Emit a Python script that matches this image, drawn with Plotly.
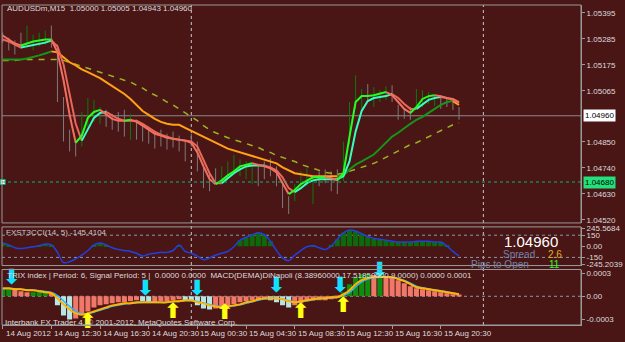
import pandas as pd
import plotly.graph_objects as go

# ---------------- data ----------------
times = pd.date_range("2012-08-14 08:30", periods=76, freq="30min")

fast1 = [1.05299, 1.05282, 1.05265, 1.05257, 1.05265, 1.05274, 1.05278, 1.05282, 1.05282, 1.05228,
         1.05110, 1.04964, 1.04846, 1.04876, 1.04951, 1.04976, 1.04985, 1.04964, 1.04947, 1.04939,
         1.04939, 1.04943, 1.04934, 1.04918, 1.04901, 1.04884, 1.04876, 1.04867, 1.04863, 1.04859,
         1.04855, 1.04846, 1.04805, 1.04746, 1.04692, 1.04671, 1.04687, 1.04708, 1.04725, 1.04746,
         1.04754, 1.04759, 1.04754, 1.04746, 1.04738, 1.04721, 1.04675, 1.04629, 1.04646, 1.04671,
         1.04687, 1.04700, 1.04700, 1.04700, 1.04696, 1.04687, 1.04717, 1.04872, 1.05018, 1.05043,
         1.05043, 1.05047, 1.05052, 1.05060, 1.05047, 1.05018, 1.04989, 1.04972, 1.04997, 1.05031,
         1.05043, 1.05047, 1.05043, 1.05035, 1.05031, 1.05018]

fast2 = [1.05282, 1.05274, 1.05261, 1.05248, 1.05253, 1.05261, 1.05265, 1.05269, 1.05278, 1.05253,
         1.05177, 1.05052, 1.04926, 1.04855, 1.04901, 1.04951, 1.04972, 1.04976, 1.04960, 1.04947,
         1.04939, 1.04939, 1.04939, 1.04926, 1.04909, 1.04893, 1.04880, 1.04872, 1.04863, 1.04859,
         1.04855, 1.04851, 1.04830, 1.04775, 1.04717, 1.04675, 1.04675, 1.04696, 1.04717, 1.04733,
         1.04746, 1.04750, 1.04750, 1.04750, 1.04742, 1.04729, 1.04700, 1.04654, 1.04637, 1.04654,
         1.04675, 1.04687, 1.04692, 1.04692, 1.04692, 1.04692, 1.04704, 1.04767, 1.04893, 1.04980,
         1.05022, 1.05035, 1.05039, 1.05043, 1.05052, 1.05035, 1.05010, 1.04989, 1.04989, 1.05010,
         1.05027, 1.05035, 1.05039, 1.05035, 1.05027, 1.05014]

slow_ma = [1.05198, 1.05198, 1.05198, 1.05198, 1.05202, 1.05207, 1.05215, 1.05223, 1.05232, 1.05228,
           1.05207, 1.05186, 1.05173, 1.05156, 1.05144, 1.05131, 1.05119, 1.05102, 1.05085, 1.05068,
           1.05052, 1.05031, 1.05006, 1.04980, 1.04964, 1.04947, 1.04934, 1.04926, 1.04922, 1.04922,
           1.04909, 1.04897, 1.04884, 1.04872, 1.04859, 1.04846, 1.04834, 1.04821, 1.04813, 1.04805,
           1.04796, 1.04788, 1.04780, 1.04775, 1.04767, 1.04759, 1.04742, 1.04729, 1.04717, 1.04713,
           1.04708, 1.04704, 1.04704, 1.04704, 1.04704, 1.04704, 1.04708, 1.04733, 1.04754, 1.04767,
           1.04780, 1.04796, 1.04821, 1.04846, 1.04872, 1.04888, 1.04909, 1.04926, 1.04943, 1.04955,
           1.04972, 1.04989, 1.05006, 1.05018, 1.05022, 1.05006]

trend_ma = [1.05194, 1.05194, 1.05194, 1.05198, 1.05198, 1.05198, 1.05198, 1.05198, 1.05198, 1.05198,
            1.05194, 1.05186, 1.05177, 1.05169, 1.05161, 1.05152, 1.05144, 1.05135, 1.05127, 1.05119,
            1.05110, 1.05102, 1.05089, 1.05077, 1.05060, 1.05047, 1.05035, 1.05018, 1.05006, 1.04989,
            1.04972, 1.04955, 1.04939, 1.04918, 1.04901, 1.04888, 1.04876, 1.04867, 1.04859, 1.04851,
            1.04842, 1.04834, 1.04826, 1.04813, 1.04805, 1.04792, 1.04784, 1.04775, 1.04767, 1.04754,
            1.04746, 1.04738, 1.04729, 1.04721, 1.04717, 1.04713, 1.04717, 1.04725, 1.04733, 1.04742,
            1.04750, 1.04759, 1.04771, 1.04784, 1.04800, 1.04813, 1.04826, 1.04838, 1.04846, 1.04859,
            1.04872, 1.04884, 1.04897, 1.04909, 1.04922, 1.04930]

bar_high = [1.05311, 1.05290, 1.05278, 1.05311, 1.05341, 1.05303, 1.05311, 1.05320, 1.05341, 1.05261,
            1.05039, 1.04901, 1.04859, 1.04976, 1.05035, 1.05027, 1.04997, 1.04985, 1.04968, 1.04976,
            1.04985, 1.04968, 1.04943, 1.04926, 1.04913, 1.04893, 1.04901, 1.04884, 1.04893, 1.04876,
            1.04859, 1.04884, 1.04851, 1.04754, 1.04717, 1.04738, 1.04746, 1.04767, 1.04796, 1.04775,
            1.04767, 1.04754, 1.04746, 1.04767, 1.04780, 1.04746, 1.04683, 1.04620, 1.04671, 1.04725,
            1.04738, 1.04704, 1.04725, 1.04733, 1.04725, 1.04733, 1.04851, 1.05018, 1.05131, 1.05073,
            1.05094, 1.05081, 1.05068, 1.05085, 1.05089, 1.05006, 1.04989, 1.04997, 1.05073, 1.05068,
            1.05060, 1.05052, 1.05047, 1.05039, 1.05035, 1.04997]

bar_low = [1.05269, 1.05236, 1.05219, 1.05244, 1.05269, 1.05236, 1.05253, 1.05261, 1.05248, 1.05018,
           1.04851, 1.04809, 1.04788, 1.04830, 1.04913, 1.04934, 1.04926, 1.04913, 1.04901, 1.04893,
           1.04872, 1.04859, 1.04859, 1.04851, 1.04842, 1.04821, 1.04830, 1.04817, 1.04826, 1.04809,
           1.04767, 1.04830, 1.04725, 1.04654, 1.04641, 1.04675, 1.04683, 1.04692, 1.04717, 1.04704,
           1.04692, 1.04671, 1.04662, 1.04692, 1.04704, 1.04662, 1.04570, 1.04545, 1.04599, 1.04650,
           1.04662, 1.04587, 1.04662, 1.04675, 1.04641, 1.04629, 1.04683, 1.04838, 1.04989, 1.04989,
           1.05018, 1.04997, 1.05018, 1.05027, 1.05018, 1.04943, 1.04947, 1.04943, 1.04989, 1.04997,
           1.05010, 1.05001, 1.04989, 1.04997, 1.04985, 1.04943]

cci = [44, 19, -19, -31, -19, -6, 6, 31, 19, -82,
       -220, -208, -170, -120, -57, 19, 44, 19, -19, -44,
       -57, -69, -94, -132, -107, -94, -82, -82, -57, 19,
       -69, -94, -132, -182, -157, -120, -94, -69, -6, 82,
       120, 157, 182, 157, 69, -57, -157, -195, -120, -57,
       -6, 6, -19, -44, 6, 94, 182, 220, 208, 170,
       132, 107, 94, 82, 69, 57, 57, 57, 69, 69,
       69, 57, 57, 6, -69, -132]

macd_hist = [0.000091, 0.000104, 0.000091, 0.000065, 0.000052, 0.000052, 0.000065, 0.000065, 0.000039, -0.000117,
             -0.000247, -0.000299, -0.000286, -0.000247, -0.000195, -0.000143, -0.000117, -0.000104, -0.000091, -0.000078,
             -0.000078, -0.000065, -0.000052, -0.000065, -0.000078, -0.000078, -0.000065, -0.000065, -0.000052, -0.000039,
             -0.000052, -0.000065, -0.000117, -0.000156, -0.000169, -0.000156, -0.000143, -0.000130, -0.000104, -0.000078,
             -0.000065, -0.000052, -0.000039, -0.000039, -0.000052, -0.000078, -0.000117, -0.000143, -0.000117, -0.000091,
             -0.000065, -0.000052, -0.000052, -0.000052, -0.000039, -0.000013, 0.000052, 0.000156, 0.000247, 0.000286,
             0.000286, 0.000273, 0.000273, 0.000260, 0.000247, 0.000208, 0.000169, 0.000130, 0.000104, 0.000091,
             0.000078, 0.000065, 0.000052, 0.000039, 0.000026, 0.000013]

signal_a = [0.000104, 0.000104, 0.000091, 0.000091, 0.000078, 0.000078, 0.000065, 0.000052, 0.000039, -0.000026,
            -0.000104, -0.000169, -0.000221, -0.000234, -0.000221, -0.000195, -0.000169, -0.000143, -0.000117, -0.000104,
            -0.000091, -0.000091, -0.000078, -0.000078, -0.000078, -0.000078, -0.000078, -0.000078, -0.000065, -0.000065,
            -0.000052, -0.000052, -0.000078, -0.000091, -0.000117, -0.000130, -0.000143, -0.000130, -0.000117, -0.000104,
            -0.000078, -0.000065, -0.000039, -0.000026, -0.000026, -0.000026, -0.000039, -0.000065, -0.000078, -0.000065,
            -0.000052, -0.000039, -0.000026, -0.000026, -0.000013, -0.000013, 0.000026, 0.000078, 0.000156, 0.000208,
            0.000234, 0.000247, 0.000247, 0.000247, 0.000247, 0.000221, 0.000195, 0.000156, 0.000117, 0.000104,
            0.000091, 0.000078, 0.000065, 0.000052, 0.000039, 0.000026]

signal_b = [0.000095, 0.000100, 0.000098, 0.000092, 0.000085, 0.000080, 0.000072, 0.000062, 0.000050, 0.000010,
            -0.000060, -0.000130, -0.000190, -0.000222, -0.000225, -0.000205, -0.000180, -0.000155, -0.000130, -0.000112,
            -0.000098, -0.000092, -0.000085, -0.000080, -0.000080, -0.000080, -0.000080, -0.000078, -0.000070, -0.000066,
            -0.000058, -0.000054, -0.000068, -0.000085, -0.000105, -0.000122, -0.000136, -0.000135, -0.000124, -0.000110,
            -0.000090, -0.000072, -0.000050, -0.000035, -0.000028, -0.000028, -0.000035, -0.000055, -0.000072, -0.000070,
            -0.000058, -0.000045, -0.000032, -0.000028, -0.000018, -0.000014, 0.000010, 0.000050, 0.000120, 0.000185,
            0.000222, 0.000240, 0.000246, 0.000247, 0.000246, 0.000230, 0.000205, 0.000170, 0.000130, 0.000110,
            0.000096, 0.000083, 0.000070, 0.000057, 0.000044, 0.000030]

sell_arrow_time = ["2012-08-14 09:15", "2012-08-14 20:15", "2012-08-15 00:30",
                   "2012-08-15 07:00", "2012-08-15 12:15", "2012-08-15 15:30"]
sell_arrow_val = [0.00022, 0.00009, 0.00009, 0.00012, 0.00012, 0.00031]
buy_arrow_time = ["2012-08-14 15:30", "2012-08-14 22:30", "2012-08-15 02:45",
                  "2012-08-15 09:00", "2012-08-15 12:30"]
buy_arrow_val = [-0.00034, -0.00021, -0.00023, -0.00021, -0.00014]

price_ticks = [1.05395, 1.05285, 1.05175, 1.05065, 1.04850, 1.04740, 1.04630, 1.04520]
bid_price = 1.04960
level_price = 1.04680
cci_ticks = [245.5684, 150, 0, -150, -245.2039]
cci_tick_text = ["245.5684", "150", "0.00", "-150", "-245.2039"]
cci_levels = [150, -150]
macd_ticks = [0.0003, 0, -0.0003]
macd_tick_text = ["0.0003", "0.00", "-0.0003"]
day_breaks = ["2012-08-15 00:00", "2012-08-16 00:00"]
x_tick_times = ["2012-08-14 08:30", "2012-08-14 12:30", "2012-08-14 16:30", "2012-08-14 20:30",
                "2012-08-15 00:30", "2012-08-15 04:30", "2012-08-15 08:30", "2012-08-15 12:30",
                "2012-08-15 16:30", "2012-08-15 20:30"]
x_tick_text = ["14 Aug 2012", "14 Aug 12:30", "14 Aug 16:30", "14 Aug 20:30", "15 Aug 00:30",
               "15 Aug 04:30", "15 Aug 08:30", "15 Aug 12:30", "15 Aug 16:30", "15 Aug 20:30"]
x_range = ["2012-08-14 08:26:36", "2012-08-16 08:01:26"]

# ---------------- style ----------------
BG = "#4a1515"
FRAME = "#9a9a9a"
TXT = "#dcdcdc"
FONT = "Liberation Sans, Arial, sans-serif"

fig = go.Figure()


def directional_line(values, up_color, down_color, width, yaxis="y", dash=None):
    n = len(values)
    dirs = []
    for i in range(n - 1):
        if values[i + 1] > values[i]:
            dirs.append(True)
        elif values[i + 1] < values[i]:
            dirs.append(False)
        else:
            dirs.append(dirs[-1] if dirs else True)
    start = 0
    for i in range(1, n):
        if i == n - 1 or dirs[i] != dirs[start]:
            idx = list(range(start, i + 1))
            fig.add_trace(go.Scatter(
                x=[times[j] for j in idx], y=[values[j] for j in idx], mode="lines",
                line=dict(color=up_color if dirs[start] else down_color, width=width, dash=dash),
                yaxis=yaxis, hoverinfo="skip", showlegend=False))
            start = i


# price bars
rising = [i > 0 and fast1[i] > fast1[i - 1] for i in range(len(times))]
for want, color in [(False, "#7c7c7c"), (True, "#0b7a0b")]:
    xs, ys = [], []
    for i in range(len(times)):
        if rising[i] == want:
            xs += [times[i], times[i], None]
            ys += [bar_low[i], bar_high[i], None]
    fig.add_trace(go.Scatter(x=xs, y=ys, mode="lines", line=dict(color=color, width=1),
                             hoverinfo="skip", showlegend=False))

# moving averages
fig.add_trace(go.Scatter(x=times, y=trend_ma, mode="lines",
                         line=dict(color="#9cb41e", width=1.5, dash="6px,6px"),
                         hoverinfo="skip", showlegend=False))
directional_line(slow_ma, "#14961a", "#ffa214", 2)
directional_line(fast2, "#35ffbe", "#e8675a", 2)
directional_line(fast1, "#22ff22", "#f0705f", 2)

# level marker
fig.add_trace(go.Scatter(x=[times[0]], y=[level_price], mode="markers",
                         marker=dict(symbol="square", size=5, color="#ffffff",
                                     line=dict(color="#00b070", width=1)),
                         hoverinfo="skip", showlegend=False, cliponaxis=False))

# CCI pane
fig.add_trace(go.Bar(x=times, y=[v if v > 0 else 0 for v in cci], yaxis="y2",
                     marker=dict(color="#0b6a0b", line=dict(width=0)), width=1500000,
                     hoverinfo="skip", showlegend=False))
fig.add_trace(go.Scatter(x=times, y=cci, yaxis="y2", mode="lines",
                         line=dict(color="#2040e0", width=1.5, shape="spline"),
                         hoverinfo="skip", showlegend=False))

# MACD pane
hist_colors = []
for i, v in enumerate(macd_hist):
    prev = macd_hist[i - 1] if i > 0 else v
    if v >= 0:
        hist_colors.append("#108c10" if v >= prev else "#f07868")
    else:
        hist_colors.append("#b8e6e6" if v < prev else "#f07868")
fig.add_trace(go.Bar(x=times, y=macd_hist, yaxis="y3",
                     marker=dict(color=hist_colors, line=dict(width=0)), width=1500000,
                     hoverinfo="skip", showlegend=False))
fig.add_trace(go.Scatter(x=times, y=signal_b, yaxis="y3", mode="lines",
                         line=dict(color="#2fb4ff", width=1.5, shape="spline"),
                         hoverinfo="skip", showlegend=False))
fig.add_trace(go.Scatter(x=times, y=signal_a, yaxis="y3", mode="lines",
                         line=dict(color="#ffb400", width=2, shape="spline"),
                         hoverinfo="skip", showlegend=False))
fig.add_trace(go.Scatter(x=sell_arrow_time, y=sell_arrow_val, yaxis="y3", mode="text",
                         text=["⬇"] * len(sell_arrow_time),
                         textfont=dict(family="DejaVu Sans", size=21, color="#10e0ff", weight="bold"),
                         hoverinfo="skip", showlegend=False, cliponaxis=False))
fig.add_trace(go.Scatter(x=buy_arrow_time, y=buy_arrow_val, yaxis="y3", mode="text",
                         text=["⬆"] * len(buy_arrow_time),
                         textfont=dict(family="DejaVu Sans", size=21, color="#ffff10", weight="bold"),
                         hoverinfo="skip", showlegend=False, cliponaxis=False))

# ---------------- layout ----------------
D_MAIN = [0.3189, 1.0]
D_CCI = [0.1858, 0.3065]
D_MACD = [0.0, 0.1734]

yax_common = dict(side="right", showgrid=False, zeroline=False, ticks="outside", ticklen=3,
                  tickcolor=FRAME, showline=True, linecolor=FRAME, linewidth=1,
                  tickfont=dict(family=FONT, size=8, color=TXT), anchor="x", fixedrange=True)

fig.update_layout(
    width=625, height=342,
    margin=dict(l=2, r=33, t=2, b=17),
    paper_bgcolor=BG, plot_bgcolor=BG,
    showlegend=False, hovermode=False, barmode="overlay",
    font=dict(family=FONT, size=8, color=TXT),
    xaxis=dict(type="date", range=x_range, anchor="y3", showgrid=False, zeroline=False,
               tickvals=x_tick_times, ticktext=[""] * len(x_tick_times), ticks="outside",
               ticklen=3, tickcolor=FRAME, showline=True, linecolor=FRAME, fixedrange=True),
    yaxis=dict(domain=D_MAIN, range=[1.04507, 1.05428], tickvals=price_ticks,
               ticktext=[f"{v:.5f}" for v in price_ticks], **yax_common),
    yaxis2=dict(domain=D_CCI, range=[-260, 262], tickvals=cci_ticks,
                ticktext=cci_tick_text, **yax_common),
    yaxis3=dict(domain=D_MACD, range=[-0.00037, 0.000345], tickvals=macd_ticks,
                ticktext=macd_tick_text, **yax_common),
)

shapes = []
for d in day_breaks:
    shapes.append(dict(type="line", xref="x", yref="paper", x0=d, x1=d, y0=0, y1=1,
                       line=dict(color="#c8c8c8", width=1, dash="3px,3px"), layer="below"))
shapes.append(dict(type="line", xref="paper", yref="y", x0=0, x1=1, y0=bid_price, y1=bid_price,
                   line=dict(color="#8a8a8a", width=1), layer="below"))
shapes.append(dict(type="line", xref="paper", yref="y", x0=0, x1=1, y0=level_price, y1=level_price,
                   line=dict(color="#00b87a", width=1, dash="dot"), layer="above"))
for lv in cci_levels:
    shapes.append(dict(type="line", xref="paper", yref="y2", x0=0, x1=1, y0=lv, y1=lv,
                       line=dict(color="#8a98a8", width=1, dash="3px,3px"), layer="below"))
shapes.append(dict(type="line", xref="paper", yref="y3", x0=0, x1=1, y0=0, y1=0,
                   line=dict(color="#8a98a8", width=1, dash="3px,3px"), layer="below"))
for dom in (D_MAIN, D_CCI, D_MACD):
    shapes.append(dict(type="rect", xref="paper", yref="paper", x0=0, x1=1, y0=dom[0], y1=dom[1],
                       line=dict(color=FRAME, width=1), fillcolor="rgba(0,0,0,0)", layer="above"))
fig.update_layout(shapes=shapes)

ann = []
for t, s in zip(x_tick_times, x_tick_text):
    ann.append(dict(x=t, y=-0.025, xref="x", yref="paper", text=s, showarrow=False,
                    xanchor="left", yanchor="middle", xshift=1,
                    font=dict(family=FONT, size=8, color=TXT)))


def label(text, xp, yp, color=TXT, size=8, anchor="left"):
    ann.append(dict(x=xp, y=yp, xref="paper", yref="paper", text=text, showarrow=False,
                    xanchor=anchor, yanchor="middle", font=dict(family=FONT, size=size, color=color)))


label("AUDUSDm,M15\u00a0\u00a01.05000 1.05005 1.04943 1.04960", 0.005, 0.9876)
label("FXST3CCI(14, 5) -145.4104", 0.003, 0.288, color="#c8c8c8")
label("TRIX index | Period: 6, Signal Period: 5 |\u00a0\u00a00.0000 0.0000\u00a0\u00a0"
      "MACD(DEMA)DiNapoli (8.38960000,17.51850000,9.0000) 0.0000 0.0001", 0.005, 0.1548)
label("Interbank FX Trader 4, © 2001-2012, MetaQuotes Software Corp.", 0.002, 0.0093)
label("1.04960", 0.9136, 0.26, color="#ffffff", size=15, anchor="center")
label("Spread", 0.9237, 0.2198, color="#7384a8", size=10, anchor="right")
label("2.6", 0.939, 0.2198, color="#e0b020", size=10)
label("Pips to Open", 0.9136, 0.189, color="#7384a8", size=10, anchor="right")
label("11", 0.942, 0.189, color="#22ff22", size=10)

ann.append(dict(x=1, y=bid_price, xref="paper", yref="y", text="1.04960", showarrow=False,
                xanchor="left", yanchor="middle", xshift=2, bgcolor="#ffffff", borderpad=1,
                font=dict(family=FONT, size=8, color="#000000")))
ann.append(dict(x=1, y=level_price, xref="paper", yref="y", text="1.04680", showarrow=False,
                xanchor="left", yanchor="middle", xshift=2, bgcolor="#22e07a", borderpad=1,
                font=dict(family=FONT, size=8, color="#000000")))
fig.update_layout(annotations=ann)

fig.write_html("out.html")
